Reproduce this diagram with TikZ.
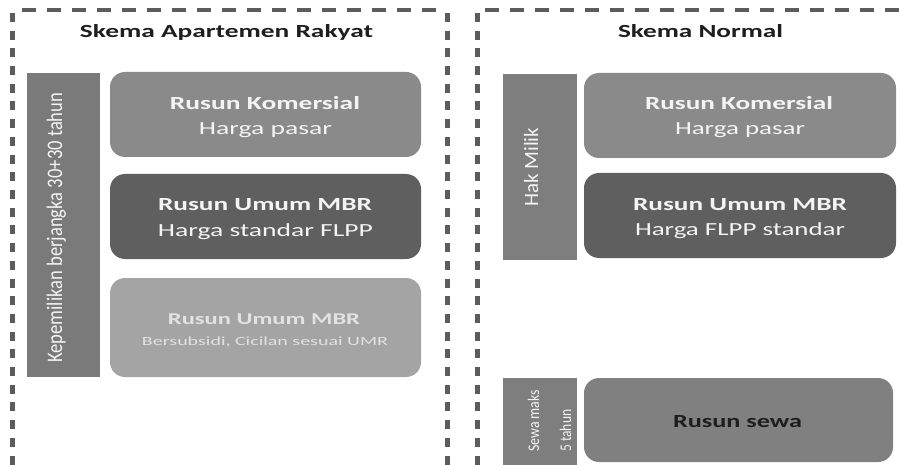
\documentclass[tikz,border=0pt]{standalone}
\usepackage{fontspec}
\usepackage{graphicx}
\setmainfont{Carlito}
\definecolor{framegray}{HTML}{5C5C5C}
\definecolor{barleft}{HTML}{7A7A7A}
\definecolor{barright}{HTML}{7E7E7E}
\definecolor{boxmid}{HTML}{8A8A8A}
\definecolor{boxdark}{HTML}{5F5F5F}
\definecolor{boxlight}{HTML}{A4A4A4}
\definecolor{boxrent}{HTML}{808080}
\definecolor{lighttext}{HTML}{F4F4F4}
\definecolor{palertext}{HTML}{E2E2E2}
\definecolor{darktext}{HTML}{1E1E1E}
% stretch a text to a given width, keeping its height
\newcommand{\widthto}[2]{\resizebox{#1}{\height}{#2}}
% stretch a text to a given length and thicken it by a factor
\newcommand{\lengthto}[3]{\resizebox{#1}{#2\height}{#3}}
\begin{document}
\begin{tikzpicture}[x=1pt,y=-1pt,
  frameh/.style={draw=framegray, line width=4pt, dash pattern=on 14pt off 11pt},
  framev/.style={draw=framegray, line width=5pt, dash pattern=on 9pt off 8.7pt},
  card/.style={rectangle, rounded corners=15pt, inner sep=0pt, outer sep=0pt},
  bar/.style={rectangle, inner sep=0pt, outer sep=0pt},
  title/.style={inner sep=0pt, anchor=base, text=darktext, font=\fontsize{18.5}{22}\selectfont\bfseries},
  mainline/.style={inner sep=0pt, anchor=base, text=lighttext, font=\fontsize{18.5}{22}\selectfont\bfseries},
  subline/.style={inner sep=0pt, anchor=base, text=lighttext, font=\fontsize{18.5}{22}\selectfont},
  sidelabel/.style={inner sep=0pt, anchor=base west, rotate=90, text=lighttext, font=\fontsize{18.5}{22}\selectfont}]
\useasboundingbox (0,0) rectangle (901,465);
\fill[white] (0,0) rectangle (901,465);
\clip (0,0) rectangle (901,465);

% dashed frames
\draw[frameh] (22,10) -- (440,10);
\draw[framev] (12,13) -- (12,475);
\draw[framev] (447,13) -- (447,475);
\draw[frameh] (485,10) -- (915,10);
\draw[framev] (477,13) -- (477,475);

% titles
\node[title] (t1) at (226.5,38) {\widthto{293pt}{Skema Apartemen Rakyat}};
\node[title] (t2) at (700.5,38) {\widthto{165pt}{Skema Normal}};

% left scheme
\node[bar, fill=barleft, minimum width=73pt, minimum height=304pt] (lbar) at (63.5,225) {};
\node[sidelabel] (llab) at (62,363) {\lengthto{270pt}{1.2}{Kepemilikan berjangka 30+30 tahun}};

\node[card, fill=boxmid, minimum width=311pt, minimum height=85pt] (lk) at (265.5,114.5) {};
\node[mainline] (lk1) at (265,109.5) {\widthto{190pt}{Rusun Komersial}};
\node[subline] (lk2) at (265.5,135) {\widthto{133pt}{Harga pasar}};

\node[card, fill=boxdark, minimum width=311pt, minimum height=85pt] (lu) at (265.5,216.5) {};
\node[mainline] (lu1) at (265,210) {\widthto{214pt}{Rusun Umum MBR}};
\node[subline] (lu2) at (265.5,236) {\widthto{215pt}{Harga standar FLPP}};

\node[card, fill=boxlight, minimum width=311pt, minimum height=99pt] (ls) at (265.5,327.5) {};
\node[mainline, text=palertext, font=\fontsize{16.5}{20}\selectfont\bfseries] (ls1) at (264,324) {\widthto{192pt}{Rusun Umum MBR}};
\node[subline, text=palertext, font=\fontsize{12.5}{15}\selectfont] (ls2) at (265,345) {\widthto{246pt}{Bersubsidi, Cicilan sesuai UMR}};

% right scheme
\node[bar, fill=barright, minimum width=74pt, minimum height=186pt] (rbar) at (540,167) {};
\node[sidelabel] (rlab) at (538,207) {\lengthto{79pt}{1.1}{Hak Milik}};

\node[card, fill=boxmid, minimum width=312pt, minimum height=85pt] (rk) at (740,115.5) {};
\node[mainline] (rk1) at (739,110) {\widthto{188pt}{Rusun Komersial}};
\node[subline] (rk2) at (740,135) {\widthto{130pt}{Harga pasar}};

\node[card, fill=boxdark, minimum width=312pt, minimum height=85pt] (ru) at (740,215.5) {};
\node[mainline] (ru1) at (740,210) {\widthto{214pt}{Rusun Umum MBR}};
\node[subline] (ru2) at (740,235) {\widthto{210pt}{Harga FLPP standar}};

\node[bar, fill=barright, minimum width=74pt, minimum height=100pt] (sbar) at (540,428) {};
\node[sidelabel, font=\fontsize{13}{15}\selectfont] (slab1) at (539,452) {\lengthto{62pt}{1.25}{Sewa maks}};
\node[sidelabel, font=\fontsize{13}{15}\selectfont] (slab2) at (571,452) {\lengthto{42pt}{1.25}{5 tahun}};

\node[card, fill=boxrent, minimum width=309pt, minimum height=84pt] (rs) at (738.5,420) {};
\node[mainline, text=darktext] (rs1) at (737.5,427) {\widthto{129pt}{Rusun sewa}};
\end{tikzpicture}
\end{document}
